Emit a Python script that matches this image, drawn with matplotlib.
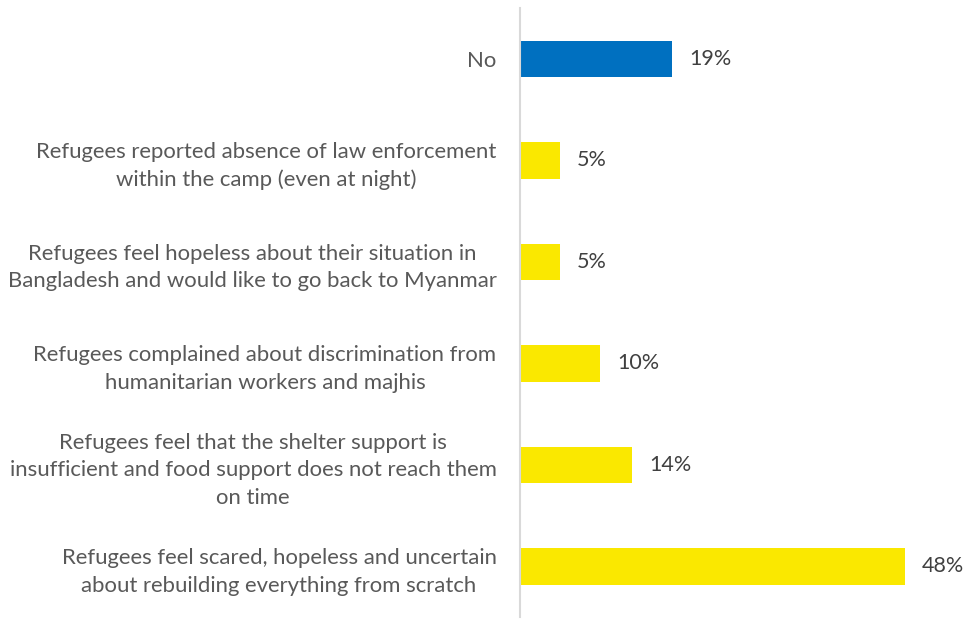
import matplotlib
matplotlib.use("Agg")
import matplotlib.pyplot as plt

categories = [
    "No",
    "Refugees reported absence of law enforcement\nwithin the camp (even at night)",
    "Refugees feel hopeless about their situation in\nBangladesh and would like to go back to Myanmar",
    "Refugees complained about discrimination from\nhumanitarian workers and majhis",
    "Refugees feel that the shelter support is\ninsufficient and food support does not reach them\non time",
    "Refugees feel scared, hopeless and uncertain\nabout rebuilding everything from scratch",
]
values = [19, 5, 5, 10, 14, 48]
bar_colors = ["#0070C0", "#FAE800", "#FAE800", "#FAE800", "#FAE800", "#FAE800"]

plt.rcParams['font.family'] = ['Lato', 'DejaVu Sans']

fig = plt.figure(figsize=(9.65, 6.19), dpi=100)
ax = fig.add_axes([0.539, 0.003, 0.455, 0.984])

y = list(range(len(categories)))
ax.barh(y, values, height=0.36, color=bar_colors)
ax.set_ylim(len(categories) - 0.5, -0.5)
ax.set_xlim(0, 54.8)

for yi, v in zip(y, values):
    ax.annotate(f"{v}%", xy=(v, yi), xytext=(12, 0), textcoords="offset points",
                ha="left", va="center", fontsize=15.5, color="#404040")

ax.set_yticks(y)
ax.set_yticklabels(categories, fontsize=15.9, color="#595959", ha="right",
                   multialignment="center", linespacing=1.45)
ax.tick_params(axis="y", length=0, pad=17)
ax.set_xticks([])
for s in ["top", "right", "bottom"]:
    ax.spines[s].set_visible(False)
ax.spines["left"].set_color("#D9D9D9")
ax.spines["left"].set_linewidth(1.5)

fig.savefig("out.png", dpi=100)
